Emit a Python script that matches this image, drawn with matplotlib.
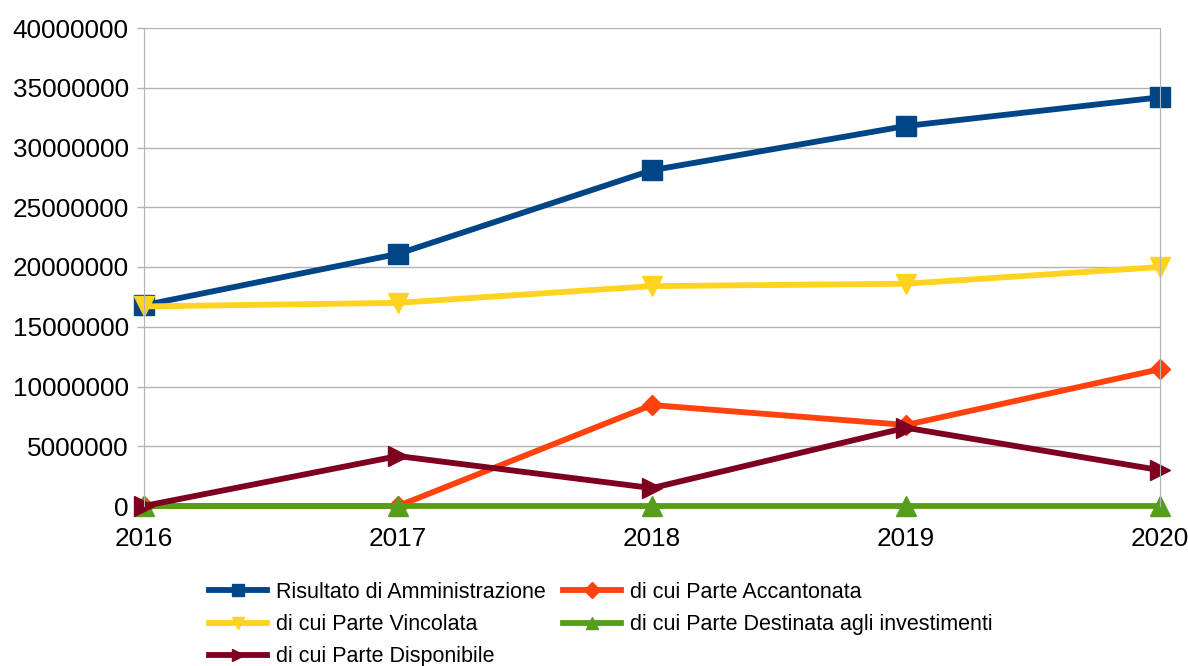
import matplotlib.pyplot as plt
from matplotlib.ticker import FixedLocator

# dati
anni = [2016, 2017, 2018, 2019, 2020]
risultato = [16800000, 21100000, 28100000, 31800000, 34200000]
accantonata = [0, 0, 8450000, 6780000, 11450000]
vincolata = [16700000, 17000000, 18400000, 18600000, 20000000]
destinata = [0, 0, 0, 0, 0]
disponibile = [0, 4180000, 1500000, 6550000, 3000000]

nomi = ["Risultato di Amministrazione", "di cui Parte Accantonata",
        "di cui Parte Vincolata", "di cui Parte Destinata agli investimenti",
        "di cui Parte Disponibile"]
colori = ["#004586", "#ff420e", "#ffd320", "#579d1c", "#7e0021"]
marker = ["s", "D", "v", "^", ">"]
msize = [14, 10, 15, 15, 15]
serie = [risultato, accantonata, vincolata, destinata, disponibile]

plt.rcParams['font.family'] = ['Liberation Sans', 'DejaVu Sans']

fig = plt.figure(figsize=(11.88, 6.66), dpi=100)
ax = fig.add_axes([144/1188, 1-506/666, (1160-144)/1188, (506-28)/666])

linee = []
for s, n, c, m, ms in zip(serie, nomi, colori, marker, msize):
    l, = ax.plot(anni, s, color=c, lw=4.2, marker=m, markersize=ms,
                 label=n, clip_on=False)
    linee.append(l)

ax.set_xlim(2016, 2020)
ax.set_ylim(0, 40000000)
ax.yaxis.set_major_locator(FixedLocator(range(0, 40000001, 5000000)))
ax.set_xticks(anni)
ax.set_yticklabels([str(v) for v in range(0, 40000001, 5000000)])
ax.tick_params(labelsize=18.8, colors="#b3b3b3", labelcolor="black",
               length=5, width=1)
ax.tick_params(axis='y', pad=6)
ax.tick_params(axis='x', pad=10)
ax.grid(axis='y', color="#b3b3b3", lw=1)
ax.set_axisbelow(True)
for sp in ['top', 'bottom']:
    ax.spines[sp].set_visible(False)
for sp in ['left', 'right']:
    ax.spines[sp].set_color("#b3b3b3")

# ordine legenda: righe -> colonne
ordine = [0, 2, 4, 1, 3]
leg = fig.legend([linee[i] for i in ordine], [nomi[i] for i in ordine],
                 ncol=2, loc='upper left', bbox_to_anchor=(209/1188, 1-582/666),
                 frameon=False, handlelength=2.7, handletextpad=0.42,
                 columnspacing=0.8, labelspacing=0.52, borderaxespad=0,
                 borderpad=0,
                 prop={'family': ['Liberation Sans', 'DejaVu Sans'], 'size': 15.5})
for h in leg.legend_handles:
    h.set_markersize(8)

fig.savefig("out.png", dpi=100)
